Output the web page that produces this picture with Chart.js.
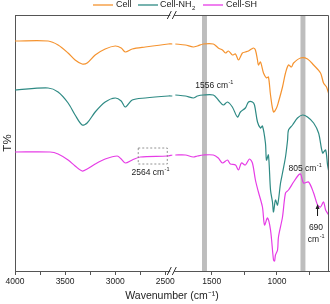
<!DOCTYPE html>
<html><head><meta charset="utf-8">
<script src="https://cdn.jsdelivr.net/npm/chart.js@4.4.0/dist/chart.umd.min.js"></script>
<style>html,body{margin:0;padding:0;background:#fff;}</style>
</head><body>
<canvas id="c" width="330" height="304"></canvas>
<script>
const FONT = '"Liberation Sans", Arial, sans-serif';

// ---- data (wavenumber in cm^-1, transmittance in arbitrary offset units) ----
const cellWn = [4000,3670,3570,3470,3400,3330,3280,3200,3100,3000,2940,2900,2830,2700,2470,2430,
  1780,1703,1642,1610,1565,1488,1450,1418,1395,1372,1342,1318,1295,1265,1242,1218,1195,1180,1165,1149,
  1142,1126,1103,1080,1065,1049,1026,1003,988,957,934,911,888,872,818,765,718,665,642,619,600];
const cellT = [230,230,226,218,211,207,208,216,222,225,223,219,222,224,227,227,
  227,226,224,225,227,227,223,221,218,220,216,217,211,218,219,220,222,223,221,211,
  206,209,198,193,194,176,159,163,169,184,198,206,204,208,213,212,206,198,188,184,176];

const nh2Wn = [4000,3670,3570,3470,3400,3330,3280,3200,3100,3000,2940,2900,2830,2700,2470,2430,
  1780,1703,1642,1610,1565,1488,1450,1411,1380,1342,1303,1280,1242,1218,1188,1172,1149,1126,1111,1088,
  1080,1065,1049,1034,1026,1011,995,972,957,934,918,911,880,842,803,765,718,680,649,626,611,600];
const nh2T = [181,183,179,168,156,146,148,159,169,173,170,164,171,173,175,175,
  176,175,173,175,176,176,171,166,169,164,154,159,163,169,169,166,149,143,145,128,
  111,116,81,69,59,71,66,88,98,114,131,141,146,153,156,154,148,138,118,121,106,98];

const shWn = [4000,3650,3570,3470,3400,3330,3280,3200,3100,2980,2940,2900,2830,2750,2480,2430,
  1780,1703,1642,1610,1565,1488,1450,1418,1380,1357,1318,1295,1272,1242,1211,1188,1165,1142,1111,1095,
  1072,1049,1026,1018,1011,995,988,957,934,911,872,834,818,795,757,718,688,665,642,626,603,600];
const shT = [119,119,117,111,105,100,102,107,112,115,112,108,111,114,115,116,
  116,116,114,115,116,116,113,108,111,107,106,101,108,106,112,108,91,79,64,46,
  53,41,11,10,16,21,34,54,78,81,89,96,97,88,89,78,66,64,69,61,56,55];

const seriesNames = ['Cell', 'Cell-NH', 'Cell-SH'];
const seriesColors = ['#F5932F', '#2E8A84', '#E63CE6'];
const tickWn = [4000,3750,3500,3250,3000,2750,2500,1500,1250,1000,750];
const tickText = ['4000','','3500','','3000','','2500','1500','','1000',''];
const bandWn = [1556, 800];

// ---- broken axis: map wavenumber to a continuous axis coordinate ----
const BREAK = 2100;
function toU(w){ return w >= BREAK ? 4000 - w : 1600 + (1780 - w) * 1.3; }
function build(wn, t){
  const pts = [];
  for (let i = 0; i < wn.length; i++){
    if (i > 0 && wn[i-1] >= BREAK && wn[i] < BREAK) pts.push({x: 1600, y: null});
    pts.push({x: toU(wn[i]), y: t[i]});
  }
  return pts;
}

function supText(ctx, x, y, base, sup, size, align){
  ctx.font = size + 'px ' + FONT;
  const bw = ctx.measureText(base).width;
  ctx.font = (size*0.65) + 'px ' + FONT;
  const sw = ctx.measureText(sup).width;
  let x0 = x;
  if (align === 'center') x0 = x - (bw + sw) / 2;
  ctx.textAlign = 'left'; ctx.textBaseline = 'middle';
  ctx.font = size + 'px ' + FONT;
  ctx.fillText(base, x0, y);
  ctx.font = (size*0.65) + 'px ' + FONT;
  ctx.fillText(sup, x0 + bw + 0.5, y - size*0.38);
}

const deco = {
  id: 'deco',
  beforeDatasetsDraw(chart){
    const {ctx, chartArea: a, scales: {x}} = chart;
    ctx.save();
    ctx.fillStyle = '#BDBDBD';
    bandWn.forEach(w => {
      const x1 = x.getPixelForValue(toU(w + 19)), x2 = x.getPixelForValue(toU(w - 19));
      ctx.fillRect(x1, a.top, x2 - x1, a.bottom - a.top);
    });
    ctx.restore();
  },
  afterDraw(chart){
    const {ctx, chartArea: a, scales: {x, y}} = chart;
    ctx.save();
    // frame top & right
    ctx.strokeStyle = '#555'; ctx.lineWidth = 1;
    ctx.beginPath();
    ctx.moveTo(a.left, a.top + 0.5); ctx.lineTo(a.right - 0.5, a.top + 0.5); ctx.lineTo(a.right - 0.5, a.bottom);
    ctx.stroke();
    // break marks
    const bx = x.getPixelForValue(1570);
    [a.top, a.bottom].forEach(yy => {
      ctx.fillStyle = '#fff';
      ctx.fillRect(bx - 2, yy - 1.5, 4, 3);
      ctx.strokeStyle = '#333'; ctx.lineWidth = 1;
      ctx.beginPath();
      ctx.moveTo(bx - 5, yy + 4); ctx.lineTo(bx - 1, yy - 4);
      ctx.moveTo(bx + 0, yy + 4); ctx.lineTo(bx + 4, yy - 4);
      ctx.stroke();
    });
    // dashed box
    ctx.strokeStyle = '#777'; ctx.setLineDash([2, 2]); ctx.lineWidth = 0.8;
    const bx1 = x.getPixelForValue(toU(2770)), bx2 = x.getPixelForValue(toU(2480));
    const by1 = y.getPixelForValue(123), by2 = y.getPixelForValue(107);
    ctx.strokeRect(bx1, by1, bx2 - bx1, by2 - by1);
    ctx.setLineDash([]);
    // annotations
    ctx.fillStyle = '#222';
    supText(ctx, x.getPixelForValue(toU(1626)), y.getPixelForValue(185), '1556 cm', '-1', 8.5, 'left');
    supText(ctx, x.getPixelForValue(toU(2650)), y.getPixelForValue(98), '2564 cm', '-1', 8.5, 'center');
    supText(ctx, x.getPixelForValue(toU(911)), y.getPixelForValue(102), '805 cm', '-1', 8.5, 'left');
    supText(ctx, x.getPixelForValue(toU(700)), y.getPixelForValue(43), '690', '', 8.5, 'center');
    supText(ctx, x.getPixelForValue(toU(700)), y.getPixelForValue(31), 'cm', '-1', 8.5, 'center');
    // arrow at 690
    const ax = x.getPixelForValue(toU(688));
    const ay1 = y.getPixelForValue(55), ay2 = y.getPixelForValue(67);
    ctx.strokeStyle = '#111'; ctx.lineWidth = 1;
    ctx.beginPath(); ctx.moveTo(ax, ay1); ctx.lineTo(ax, ay2 + 3); ctx.stroke();
    ctx.beginPath(); ctx.moveTo(ax, ay2); ctx.lineTo(ax - 2, ay2 + 5); ctx.lineTo(ax + 2, ay2 + 5); ctx.closePath(); ctx.fill();
    // legend
    const ly = 5;
    const items = [[93, 116], [138, 160], [203, 226]];
    items.forEach((it, i) => {
      ctx.strokeStyle = seriesColors[i]; ctx.lineWidth = 1.3;
      ctx.beginPath(); ctx.moveTo(it[0], ly); ctx.lineTo(it[0] + 20, ly); ctx.stroke();
      ctx.fillStyle = '#222'; ctx.textAlign = 'left'; ctx.textBaseline = 'middle';
      ctx.font = '9px ' + FONT;
      ctx.fillText(seriesNames[i], it[1], ly);
      if (i === 1){
        const w = ctx.measureText(seriesNames[i]).width;
        ctx.font = '6px ' + FONT;
        ctx.fillText('2', it[1] + w + 0.5, ly + 3);
      }
    });
    ctx.restore();
  }
};

new Chart(document.getElementById('c'), {
  type: 'line',
  data: {
    datasets: [
      {label: 'Cell', data: build(cellWn, cellT), borderColor: seriesColors[0]},
      {label: 'Cell-NH2', data: build(nh2Wn, nh2T), borderColor: seriesColors[1]},
      {label: 'Cell-SH', data: build(shWn, shT), borderColor: seriesColors[2]}
    ]
  },
  options: {
    responsive: false, animation: false, devicePixelRatio: 1,
    layout: {padding: {top: 15, right: 1, left: 0, bottom: 0}},
    plugins: {legend: {display: false}, tooltip: {enabled: false}},
    elements: {point: {radius: 0}, line: {borderWidth: 1.2, tension: 0.3}},
    spanGaps: false,
    scales: {
      x: {
        type: 'linear', min: 0, max: toU(600),
        afterBuildTicks(s){ s.ticks = tickWn.map(w => ({value: toU(w)})); },
        afterFit(s){ s.height = 33; },
        ticks: {autoSkip: false, maxRotation: 0, padding: 2, color: '#222',
          font: {family: FONT, size: 8.5}, callback: (v, i) => tickText[i]},
        grid: {display: true, drawOnChartArea: false, drawTicks: true, tickLength: 4, color: '#555', lineWidth: 1},
        border: {display: true, color: '#555', width: 1},
        title: {display: true, text: 'Wavenumber (cm⁻¹)', color: '#222',
          font: {family: FONT, size: 10.5}, padding: {top: 0, bottom: 2}}
      },
      y: {
        min: 0, max: 256,
        afterFit(s){ s.width = 15; },
        ticks: {display: false},
        grid: {display: false},
        border: {display: true, color: '#555', width: 1},
        title: {display: true, text: 'T%', color: '#222', font: {family: FONT, size: 11.5}, padding: {top: 1, bottom: 0}}
      }
    }
  },
  plugins: [deco]
});
</script>
</body></html>
